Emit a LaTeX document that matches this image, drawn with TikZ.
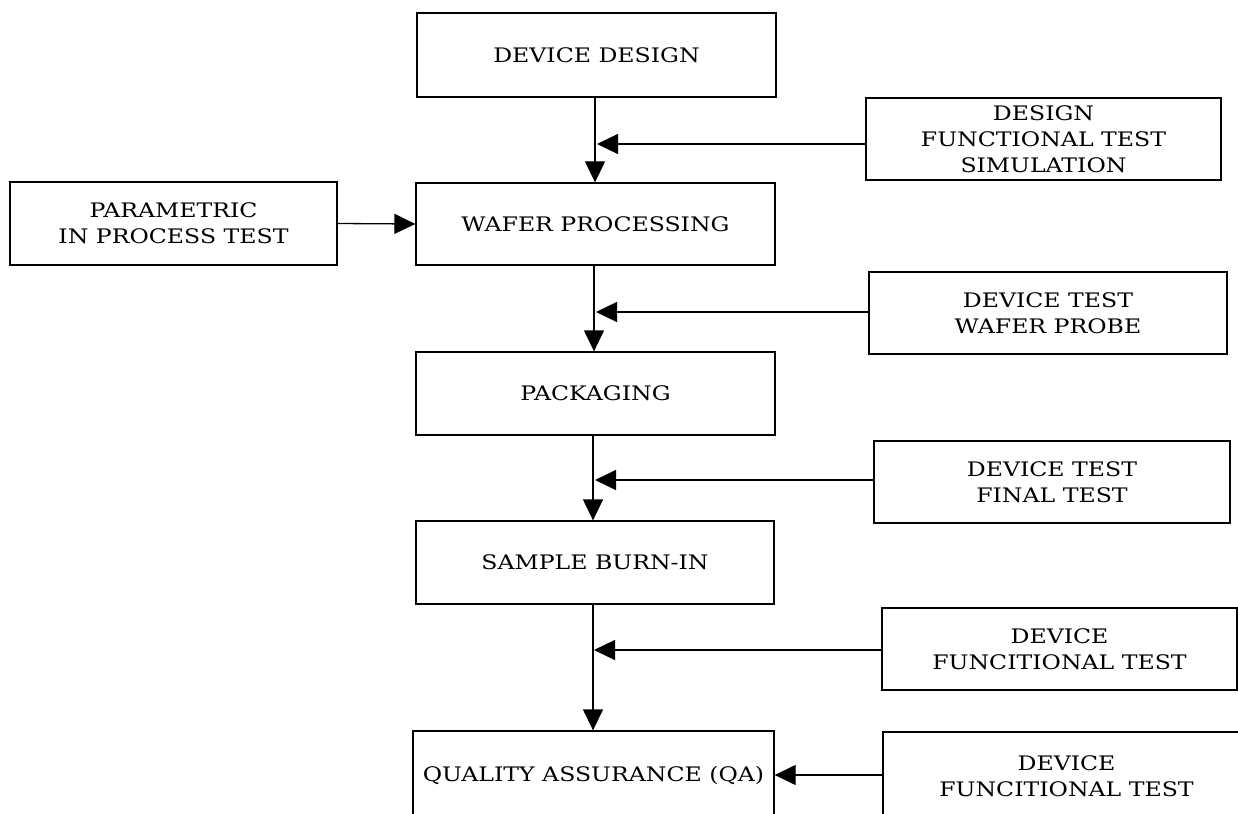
\documentclass[tikz,border=0pt]{standalone}
\usepackage{fontspec}
\setmainfont{DejaVu Serif}[FakeStretch=1.18]
\usetikzlibrary{arrows.meta}
\begin{document}
\begin{tikzpicture}[x=1pt,y=-1pt,
  box/.style={draw,line width=1.3pt,rectangle,inner sep=0pt,align=center,
    font=\fontsize{20}{26}\selectfont},
  conn/.style={line width=1.3pt,-{Triangle[length=21pt,width=20pt]}}]
\clip (0,0) rectangle (1238,813);
\fill[white] (0,0) rectangle (1238,813);
% main column
\node[box,minimum width=359pt,minimum height=84pt] (dd) at (596.5,55) {DEVICE DESIGN};
\node[box,minimum width=359pt,minimum height=82pt] (wp) at (595.5,224) {WAFER PROCESSING};
\node[box,minimum width=359pt,minimum height=83pt] (pkg) at (595.5,393.5) {PACKAGING};
\node[box,minimum width=358pt,minimum height=83pt] (sbi) at (595,562.5) {SAMPLE BURN-IN};
\node[box,minimum width=361pt,minimum height=88pt] (qa) at (593.5,775) {QUALITY ASSURANCE (QA)};
% side boxes
\node[box,minimum width=355pt,minimum height=82pt] (dfts) at (1043.5,139) {DESIGN\\FUNCTIONAL TEST\\SIMULATION};
\node[box,minimum width=327pt,minimum height=83pt] (par) at (173.5,223.5) {PARAMETRIC\\IN PROCESS TEST};
\node[box,minimum width=358pt,minimum height=82pt] (dtwp) at (1048,313) {DEVICE TEST\\WAFER PROBE};
\node[box,minimum width=356pt,minimum height=82pt] (dtft) at (1052,482) {DEVICE TEST\\FINAL TEST};
\node[box,minimum width=355pt,minimum height=82pt] (dft1) at (1059.5,649) {DEVICE\\FUNCITIONAL TEST};
\node[box,minimum width=367pt,minimum height=88pt] (dft2) at (1066.5,776) {DEVICE\\FUNCITIONAL TEST};
% junction points on the main flow line
\coordinate (j1) at (597,144);
\coordinate (j2) at (596,312);
\coordinate (j3) at (595,480);
\coordinate (j4) at (594,650);
% main flow
\draw[conn] (dd.south -| 595,0) -- (wp.north -| 595,0);
\draw[conn] (wp.south -| 594,0) -- (pkg.north -| 594,0);
\draw[conn] (pkg.south -| 593,0) -- (sbi.north -| 593,0);
\draw[conn] (sbi.south -| 593,0) -- (qa.north -| 593,0);
% test inputs
\draw[conn] (dfts.west |- j1) -- (j1);
\draw[conn] (par.east) -- (wp.west);
\draw[conn] (dtwp.west |- j2) -- (j2);
\draw[conn] (dtft.west |- j3) -- (j3);
\draw[conn] (dft1.west |- j4) -- (j4);
\draw[conn] (dft2.west |- qa.east) -- (qa.east);
\end{tikzpicture}
\end{document}
